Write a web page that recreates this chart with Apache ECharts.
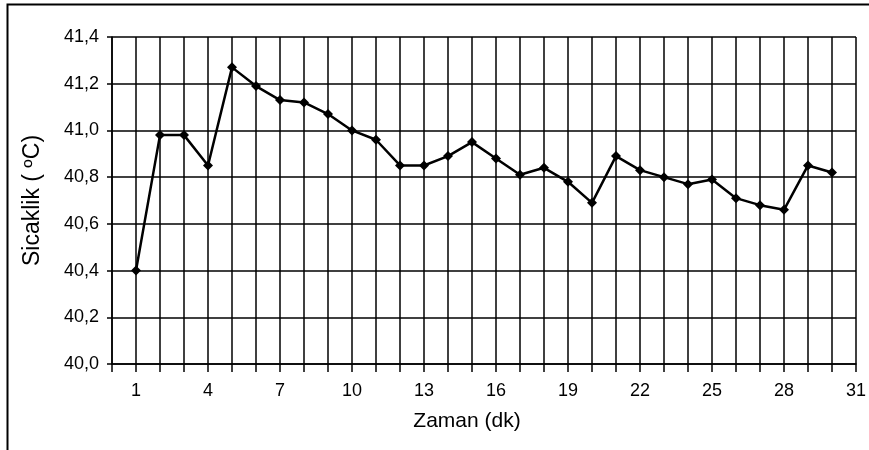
<!DOCTYPE html>
<html>
<head>
<meta charset="utf-8">
<script src="https://cdn.jsdelivr.net/npm/echarts@6/dist/echarts.min.js"></script>
<style>
html,body{margin:0;padding:0;background:#fff;}
#chart{width:869px;height:450px;}
</style>
</head>
<body>
<div id="chart"></div>
<script>
const minutes = [1,2,3,4,5,6,7,8,9,10,11,12,13,14,15,16,17,18,19,20,21,22,23,24,25,26,27,28,29,30];
const temps = [40.40,40.98,40.98,40.85,41.27,41.19,41.13,41.12,41.07,41.00,40.96,40.85,40.85,40.89,40.95,40.88,40.81,40.84,40.78,40.69,40.89,40.83,40.80,40.77,40.79,40.71,40.68,40.66,40.85,40.82];
const xAxisTitle = 'Zaman (dk)';
const yAxisTitle = 'Sicaklik ( ºC)';

const font = '"Liberation Sans", Arial, sans-serif';
const chart = echarts.init(document.getElementById('chart'));
chart.setOption({
  animation: false,
  backgroundColor: '#fff',
  graphic: [{
    type: 'rect',
    shape: {x: 7.5, y: 4.5, width: 900, height: 500},
    style: {fill: 'none', stroke: '#000', lineWidth: 2},
    silent: true
  }],
  grid: {left: 112, top: 37, right: 11, bottom: 86, containLabel: false},
  xAxis: {
    type: 'value',
    min: 0, max: 31, interval: 1,
    name: xAxisTitle,
    nameLocation: 'middle',
    nameGap: 47,
    nameTextStyle: {fontFamily: font, fontSize: 21, color: '#000', padding: [0, 34, 0, 0]},
    axisLine: {show: true, lineStyle: {color: '#000', width: 1.5}},
    axisTick: {show: true, length: 8, lineStyle: {color: '#000', width: 1.5}},
    axisLabel: {
      margin: 18, fontFamily: font, fontSize: 18, color: '#000',
      showMinLabel: true, showMaxLabel: true,
      formatter: v => ((v - 1) % 3 === 0 ? String(v) : '')
    },
    splitLine: {show: true, lineStyle: {color: '#000', width: 1.5}}
  },
  yAxis: {
    type: 'value',
    min: 40, max: 41.4, interval: 0.2,
    name: yAxisTitle,
    nameLocation: 'middle',
    nameGap: 68,
    nameRotate: 90,
    nameTextStyle: {fontFamily: font, fontSize: 23, color: '#000'},
    axisLine: {show: true, lineStyle: {color: '#000', width: 1.5}},
    axisTick: {show: true, length: 5, lineStyle: {color: '#000', width: 1.5}},
    axisLabel: {
      margin: 13, fontFamily: font, fontSize: 18, color: '#000',
      formatter: v => v.toFixed(1).replace('.', ',')
    },
    splitLine: {show: true, lineStyle: {color: '#000', width: 1.5}}
  },
  series: [{
    type: 'line',
    data: minutes.map((m, i) => [m, temps[i]]),
    symbol: 'diamond',
    symbolSize: 10,
    lineStyle: {color: '#000', width: 2.5},
    itemStyle: {color: '#000'},
    z: 5
  }]
});
</script>
</body>
</html>
